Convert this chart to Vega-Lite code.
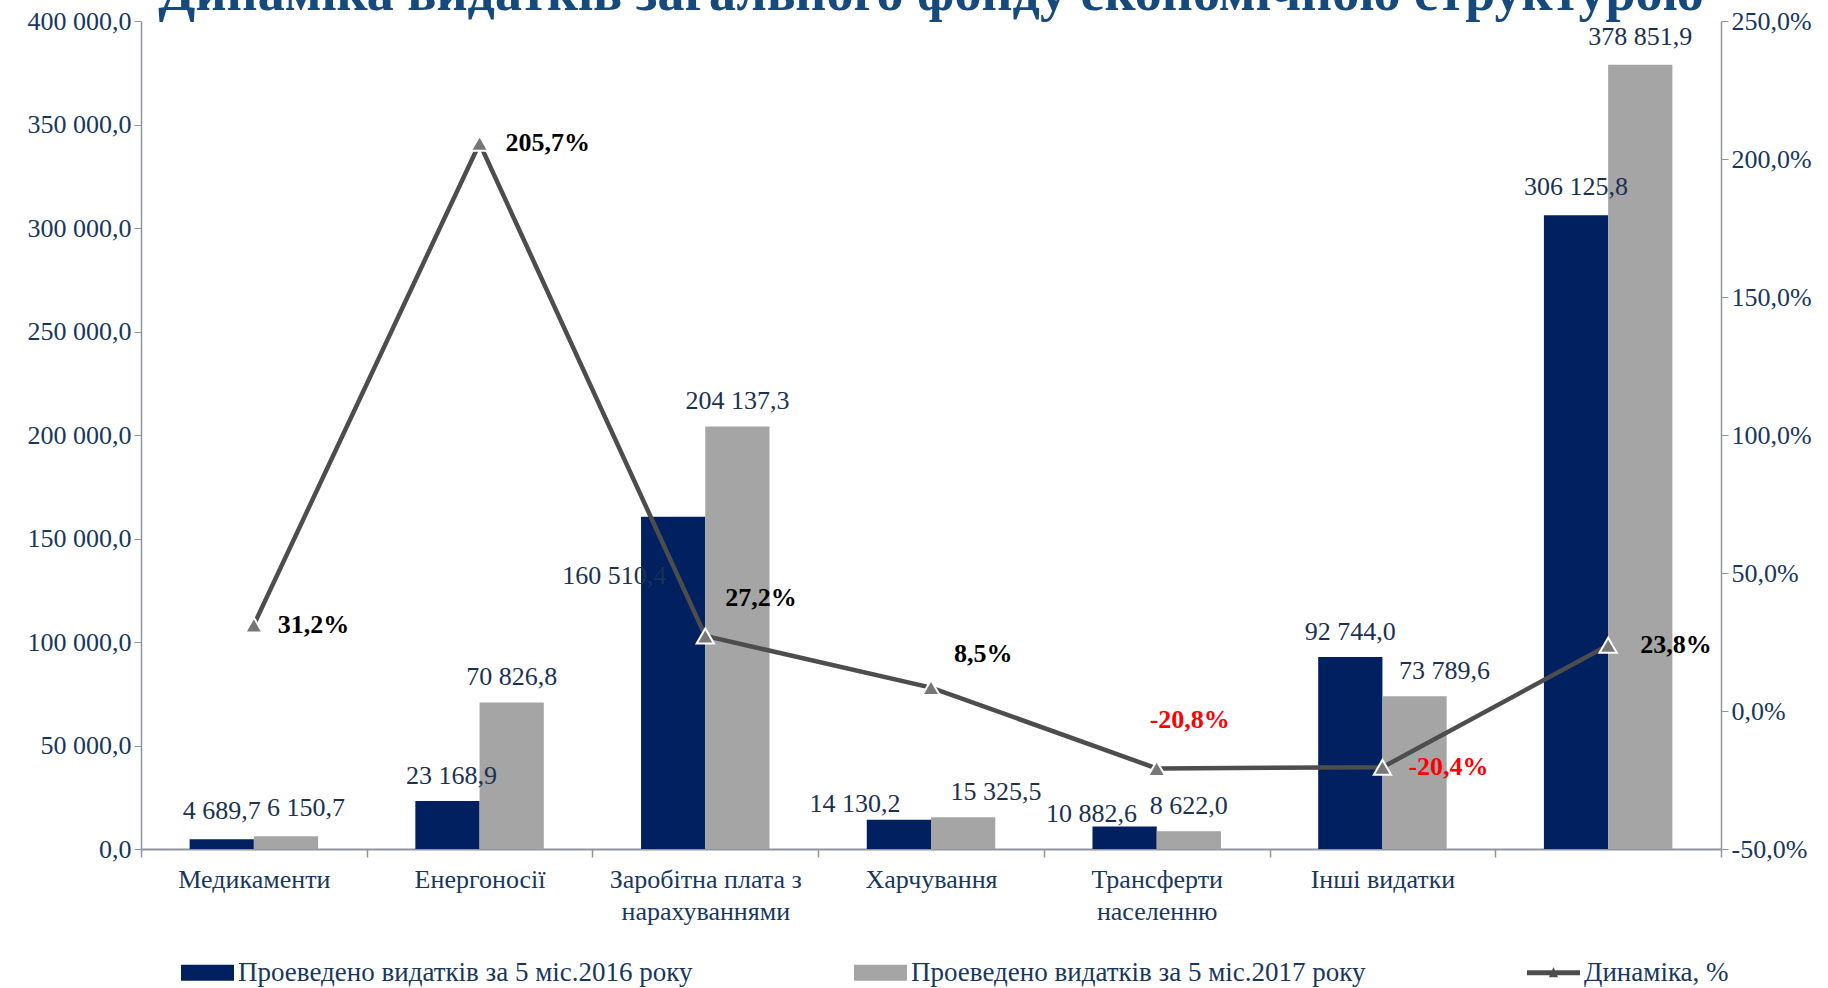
{
  "$schema": "https://vega.github.io/schema/vega-lite/v6.json",
  "autosize": {"type": "none"},
  "width": 1580,
  "height": 828,
  "padding": {"left": 141, "top": 21, "right": 107, "bottom": 139},
  "background": "white",
  "title": {
    "text": "Динаміка видатків загального фонду економічною структурою",
    "font": "Liberation Serif",
    "fontSize": 54,
    "fontWeight": "bold",
    "color": "#174a7c",
    "anchor": "middle",
    "offset": -13
  },
  "datasets": {
    "spend": [
      {"category": "Медикаменти", "year": 2016, "series": "Проеведено видатків за 5 міс.2016 року", "value": 4689.7},
      {"category": "Медикаменти", "year": 2017, "series": "Проеведено видатків за 5 міс.2017 року", "value": 6150.7},
      {"category": "Енергоносії", "year": 2016, "series": "Проеведено видатків за 5 міс.2016 року", "value": 23168.9},
      {"category": "Енергоносії", "year": 2017, "series": "Проеведено видатків за 5 міс.2017 року", "value": 70826.8},
      {"category": "Заробітна плата з нарахуваннями", "year": 2016, "series": "Проеведено видатків за 5 міс.2016 року", "value": 160510.4},
      {"category": "Заробітна плата з нарахуваннями", "year": 2017, "series": "Проеведено видатків за 5 міс.2017 року", "value": 204137.3},
      {"category": "Харчування", "year": 2016, "series": "Проеведено видатків за 5 міс.2016 року", "value": 14130.2},
      {"category": "Харчування", "year": 2017, "series": "Проеведено видатків за 5 міс.2017 року", "value": 15325.5},
      {"category": "Трансферти населенню", "year": 2016, "series": "Проеведено видатків за 5 міс.2016 року", "value": 10882.6},
      {"category": "Трансферти населенню", "year": 2017, "series": "Проеведено видатків за 5 міс.2017 року", "value": 8622.0},
      {"category": "Інші видатки", "year": 2016, "series": "Проеведено видатків за 5 міс.2016 року", "value": 92744.0},
      {"category": "Інші видатки", "year": 2017, "series": "Проеведено видатків за 5 міс.2017 року", "value": 73789.6},
      {"category": "Всього", "year": 2016, "series": "Проеведено видатків за 5 міс.2016 року", "value": 306125.8},
      {"category": "Всього", "year": 2017, "series": "Проеведено видатків за 5 міс.2017 року", "value": 378851.9}
    ],
    "dyn": [
      {"category": "Медикаменти", "pct": 0.312},
      {"category": "Енергоносії", "pct": 2.057},
      {"category": "Заробітна плата з нарахуваннями", "pct": 0.272},
      {"category": "Харчування", "pct": 0.085},
      {"category": "Трансферти населенню", "pct": -0.208},
      {"category": "Інші видатки", "pct": -0.204},
      {"category": "Всього", "pct": 0.238}
    ]
  },
  "encoding": {
    "x": {
      "field": "category",
      "type": "nominal",
      "sort": ["Медикаменти", "Енергоносії", "Заробітна плата з нарахуваннями", "Харчування", "Трансферти населенню", "Інші видатки", "Всього"],
      "scale": {"paddingInner": 0, "paddingOuter": 0},
      "axis": {
        "title": null,
        "labelAngle": 0,
        "tickBand": "extent",
        "tickSize": 8,
        "tickColor": "#8e959e",
        "tickWidth": 1.5,
        "domainColor": "#8e959e",
        "domainWidth": 2,
        "labelFont": "Liberation Serif",
        "labelFontSize": 26,
        "labelColor": "#17375e",
        "labelPadding": 9,
        "labelLimit": 0,
        "labelLineHeight": 32,
        "labelExpr": "datum.label == 'Заробітна плата з нарахуваннями' ? ['Заробітна плата з', 'нарахуваннями'] : datum.label == 'Трансферти населенню' ? ['Трансферти', 'населенню'] : datum.label == 'Всього' ? '' : datum.label"
      }
    }
  },
  "layer": [
    {
      "data": {"name": "spend"},
      "encoding": {
        "y": {
          "field": "value",
          "type": "quantitative",
          "scale": {"domain": [0, 400000], "nice": false},
          "axis": {
            "title": null,
            "values": [0, 50000, 100000, 150000, 200000, 250000, 300000, 350000, 400000],
            "format": ",.1f",
            "grid": false,
            "tickSize": 7,
            "tickColor": "#8e959e",
            "domainColor": "#8e959e",
            "domainWidth": 1.5,
            "labelFont": "Liberation Serif",
            "labelFontSize": 26,
            "labelColor": "#17375e",
            "labelPadding": 3
          }
        },
        "xOffset": {
          "field": "series",
          "type": "nominal",
          "sort": ["Проеведено видатків за 5 міс.2016 року", "Проеведено видатків за 5 міс.2017 року"],
          "scale": {"paddingInner": 0, "paddingOuter": 0.757}
        }
      },
      "layer": [
        {
          "mark": {"type": "bar"},
          "encoding": {
            "color": {
              "field": "series",
              "type": "nominal",
              "scale": {
                "domain": ["Проеведено видатків за 5 міс.2016 року", "Проеведено видатків за 5 міс.2017 року", "Динаміка, %"],
                "range": ["#002060", "#a5a5a5", "#4d4d4d"]
              },
              "legend": {
                "title": null,
                "orient": "none",
                "legendX": 40,
                "legendY": 925,
                "direction": "horizontal",
                "labelFont": "Liberation Serif",
                "labelFontSize": 27,
                "labelColor": "#17375e",
                "labelLimit": 0,
                "labelOffset": 4,
                "symbolSize": 2809,
                "symbolStrokeWidth": 0,
                "columnPadding": 161,
                "encode": {
                  "symbols": {
                    "update": {
                      "shape": {"signal": "datum.value === 'Динаміка, %' ? 'M-1,-0.09H1V0.09H-1Z M-0.17,0.17L0,-0.22L0.17,0.17Z' : 'M-1,-0.3H1V0.3H-1Z'"},
                      "fill": {"scale": "color", "field": "value"},
                      "stroke": {"value": "transparent"},
                      "opacity": {"value": 1}
                    }
                  }
                }
              }
            }
          }
        },
        {
          "mark": {
            "type": "text",
            "font": "Liberation Serif",
            "fontSize": 26,
            "color": "#1b3152",
            "baseline": "alphabetic",
            "align": "center",
            "dx": {"expr": "datum.year == 2016 && datum.category == 'Заробітна плата з нарахуваннями' ? -59 : datum.year == 2016 && datum.category == 'Харчування' ? -44 : datum.year == 2017 && datum.category == 'Харчування' ? 33 : datum.year == 2016 && datum.category == 'Трансферти населенню' ? -33 : datum.year == 2017 && datum.category == 'Інші видатки' ? 30 : datum.year == 2017 && datum.category == 'Медикаменти' ? 20 : datum.year == 2016 && datum.category == 'Енергоносії' ? 4 : 0"},
            "dy": {"expr": "datum.year == 2016 && datum.category == 'Заробітна плата з нарахуваннями' ? 67 : datum.year == 2016 && datum.category == 'Харчування' ? -8 : datum.year == 2016 && datum.category == 'Трансферти населенню' ? -4 : datum.category == 'Медикаменти' ? -20 : datum.category == 'Всього' ? -20 : -17"}
          },
          "encoding": {
            "text": {"field": "value", "type": "quantitative", "format": ",.1f"}
          }
        }
      ]
    },
    {
      "data": {"name": "dyn"},
      "encoding": {
        "y": {
          "field": "pct",
          "type": "quantitative",
          "scale": {"domain": [-0.5, 2.5], "nice": false},
          "axis": {
            "orient": "right",
            "title": null,
            "values": [-0.5, 0, 0.5, 1, 1.5, 2, 2.5],
            "format": ".1%",
            "grid": false,
            "tickSize": 7,
            "tickColor": "#8e959e",
            "domainColor": "#8e959e",
            "domainWidth": 1.5,
            "labelFont": "Liberation Serif",
            "labelFontSize": 26,
            "labelColor": "#17375e",
            "labelPadding": 3
          }
        }
      },
      "layer": [
        {
          "mark": {"type": "line", "strokeWidth": 4.5},
          "encoding": {
            "color": {"datum": "Динаміка, %", "type": "nominal"}
          }
        },
        {
          "mark": {"type": "point", "shape": "triangle-up", "filled": true, "fill": "#777777", "stroke": "white", "strokeWidth": 2, "size": 300, "opacity": 1},
          "encoding": {}
        },
        {
          "mark": {
            "type": "text",
            "font": "Liberation Serif",
            "fontSize": 26,
            "fontWeight": "bold",
            "align": "left",
            "baseline": "middle",
            "dx": {"expr": "datum.category == 'Медикаменти' ? 24 : datum.category == 'Енергоносії' ? 26 : datum.category == 'Заробітна плата з нарахуваннями' ? 20 : datum.category == 'Харчування' ? 23 : datum.category == 'Трансферти населенню' ? -7 : datum.category == 'Інші видатки' ? 26 : 32"},
            "dy": {"expr": "datum.category == 'Заробітна плата з нарахуваннями' ? -38 : datum.category == 'Харчування' ? -34 : datum.category == 'Трансферти населенню' ? -48 : 0"}
          },
          "encoding": {
            "text": {"field": "pct", "type": "quantitative", "format": ".1%"},
            "color": {"condition": {"test": "datum.pct < 0", "value": "#ff0000"}, "value": "#000000"}
          }
        }
      ]
    }
  ],
  "resolve": {"scale": {"y": "independent"}},
  "config": {
    "font": "Liberation Serif",
    "view": {"stroke": null},
    "locale": {
      "number": {"decimal": ",", "thousands": " ", "grouping": [3], "currency": ["", ""], "minus": "-"}
    }
  }
}
